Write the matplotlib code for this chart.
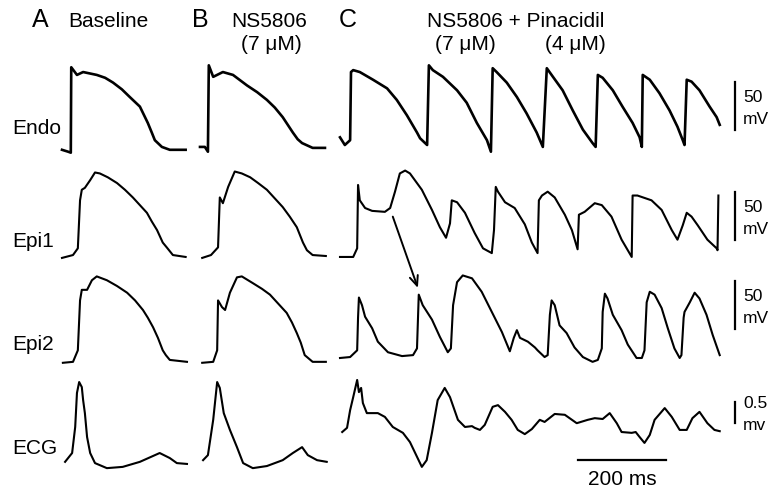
import matplotlib
matplotlib.use('Agg')
import matplotlib.pyplot as plt
from matplotlib.patches import ConnectionPatch
from matplotlib.transforms import offset_copy

plt.rcParams['font.family'] = ['Liberation Sans', 'DejaVu Sans']

# traces: time in ms, potential in mV (ECG in mV too)
endo_a_t = [0, 14, 20, 21, 34, 48, 79, 98, 116, 136, 154, 177, 195, 204, 211, 227, 245, 281]
endo_a_v = [-90, -92, -93, -4, -12, -9, -12, -15, -20, -27, -35, -45, -62, -72, -80, -87, -90, -90]
endo_b_t = [0, 11, 18, 20, 30, 52, 75, 107, 130, 152, 170, 188, 211, 222, 232, 256, 284]
endo_b_v = [-87, -87, -92, -2, -14, -9, -12, -23, -30, -38, -46, -56, -72, -79, -83, -88, -88]
endo_c_t = [0, 11, 23, 25, 30, 45, 75, 107, 129, 152, 175, 182, 198, 202, 211, 234, 266, 288, 311, 334,
            343, 347, 356, 379, 402, 424, 447, 461, 470, 484, 506, 529, 552, 574, 581, 586, 597, 620, 642, 665,
            681, 686, 688, 704, 726, 749, 767, 779, 783, 788, 799, 817, 840, 856, 863]
endo_c_v = [-77, -85, -80, -9, -7, -9, -17, -26, -38, -54, -72, -78, -85, -2, -7, -14, -28, -41, -62, -80,
            -92, -5, -9, -20, -35, -52, -72, -87, -5, -14, -28, -49, -69, -83, -87, -12, -15, -28, -45, -62,
            -77, -87, -12, -17, -31, -49, -66, -80, -85, -17, -19, -28, -45, -56, -64]

epi1_a_t = [0, 25, 36, 41, 45, 52, 64, 75, 86, 104, 125, 143, 161, 177, 193, 204, 216, 229, 238, 252, 281]
epi1_a_v = [-87, -84, -77, -27, -16, -14, -6, 2, 1, -3, -9, -16, -24, -32, -40, -49, -58, -71, -76, -84, -86]
epi1_b_t = [5, 25, 41, 45, 52, 64, 79, 95, 114, 132, 152, 170, 188, 204, 220, 227, 234, 243, 256, 286]
epi1_b_v = [-87, -84, -76, -24, -30, -13, 3, 1, -3, -9, -16, -25, -34, -44, -55, -63, -71, -79, -84, -85]
epi1_c_t = [0, 30, 39, 41, 45, 57, 73, 102, 114, 125, 136, 148, 159, 186, 209, 227, 241, 250, 254, 266,
            284, 306, 325, 345, 350, 354, 359, 375, 397, 420, 436, 449, 452, 459, 472, 488, 511, 527, 540, 543,
            556, 579, 595, 617, 640, 663, 665, 676, 708, 731, 754, 767, 779, 788, 799, 813, 835, 856, 858, 860]
epi1_c_v = [-86, -86, -77, -11, -27, -35, -38, -39, -35, -18, 1, 4, 1, -16, -37, -55, -66, -51, -27, -29,
            -40, -61, -77, -82, -58, -13, -18, -29, -35, -52, -71, -82, -27, -22, -18, -24, -42, -58, -78, -42,
            -39, -30, -32, -44, -68, -86, -22, -22, -27, -37, -58, -68, -53, -40, -44, -53, -68, -77, -79, -22]

epi2_a_t = [2, 25, 36, 41, 45, 57, 68, 79, 102, 125, 148, 166, 184, 195, 207, 218, 229, 236, 245, 284]
epi2_a_v = [-90, -89, -77, -25, -14, -14, -4, 0, -4, -10, -17, -25, -35, -43, -53, -64, -77, -82, -87, -89]
epi2_b_t = [5, 30, 39, 41, 50, 57, 68, 84, 95, 120, 141, 159, 177, 197, 209, 220, 229, 238, 256, 286]
epi2_b_v = [-90, -89, -77, -25, -32, -35, -17, -1, 0, -7, -13, -19, -28, -38, -48, -59, -69, -82, -89, -89]
epi2_c_t = [0, 23, 39, 41, 43, 50, 57, 73, 86, 109, 141, 166, 175, 179, 188, 209, 227, 245, 252, 257,
            266, 279, 300, 322, 345, 368, 386, 395, 402, 409, 427, 443, 449, 465, 472, 477, 481, 488, 499, 515,
            533, 552, 574, 586, 595, 597, 602, 608, 620, 640, 654, 674, 686, 692, 697, 704, 715, 731, 745, 760,
            772, 776, 781, 783, 795, 806, 817, 833, 847, 863]
epi2_c_v = [-85, -84, -77, -43, -22, -30, -42, -54, -68, -79, -83, -82, -75, -19, -30, -45, -63, -79, -75, -30,
            -6, 1, -2, -16, -37, -58, -78, -64, -56, -64, -68, -74, -77, -84, -82, -40, -25, -30, -51, -59,
            -74, -84, -89, -87, -75, -37, -18, -23, -40, -56, -71, -85, -85, -77, -27, -16, -19, -33, -54, -75,
            -85, -82, -43, -37, -27, -17, -23, -40, -61, -82]

ecg_a_t = [7, 23, 30, 34, 39, 45, 48, 52, 57, 64, 75, 102, 138, 177, 207, 222, 245, 261, 284]
ecg_a_v = [-0.52, -0.31, 0.31, 1.12, 1.38, 1.26, 0.95, 0.64, 0.07, -0.31, -0.55, -0.67, -0.64, -0.52, -0.38,
           -0.31, -0.43, -0.55, -0.57]
ecg_b_t = [7, 18, 30, 39, 45, 54, 68, 84, 98, 120, 152, 188, 211, 232, 245, 266, 288]
ecg_b_v = [-0.48, -0.36, 0.48, 1.38, 1.24, 0.64, 0.24, -0.17, -0.55, -0.67, -0.62, -0.48, -0.31, -0.17, -0.36, -0.48, -0.52]
ecg_c_t = [5, 16, 23, 30, 39, 43, 48, 52, 61, 86, 102, 120, 143, 159, 175, 186, 197, 209, 222, 238,
           250, 268, 284, 300, 306, 318, 329, 347, 359, 375, 390, 404, 420, 436, 454, 465, 488, 511, 538, 563,
           579, 597, 613, 629, 640, 663, 672, 681, 692, 704, 715, 738, 754, 772, 788, 801, 817, 835, 851, 863]
ecg_c_v = [0.19, 0.29, 0.71, 1.02, 1.43, 1.14, 1.24, 0.88, 0.64, 0.64, 0.55, 0.31, 0.17, -0.05, -0.40, -0.64, -0.48, 0.17, 0.95, 1.24,
           1.02, 0.48, 0.31, 0.33, 0.29, 0.24, 0.36, 0.79, 0.83, 0.67, 0.48, 0.24, 0.14, 0.26, 0.48, 0.43, 0.62, 0.60, 0.40, 0.48,
           0.52, 0.50, 0.64, 0.40, 0.19, 0.17, 0.19, 0.07, -0.07, 0.12, 0.48, 0.76, 0.55, 0.24, 0.24, 0.52, 0.67, 0.40, 0.24, 0.21]

row_names = ['Endo', 'Epi1', 'Epi2', 'ECG']
col_names = ['A', 'B', 'C']
traces = {
    ('Endo', 'A'): (endo_a_t, endo_a_v), ('Endo', 'B'): (endo_b_t, endo_b_v), ('Endo', 'C'): (endo_c_t, endo_c_v),
    ('Epi1', 'A'): (epi1_a_t, epi1_a_v), ('Epi1', 'B'): (epi1_b_t, epi1_b_v), ('Epi1', 'C'): (epi1_c_t, epi1_c_v),
    ('Epi2', 'A'): (epi2_a_t, epi2_a_v), ('Epi2', 'B'): (epi2_b_t, epi2_b_v), ('Epi2', 'C'): (epi2_c_t, epi2_c_v),
    ('ECG', 'A'): (ecg_a_t, ecg_a_v), ('ECG', 'B'): (ecg_b_t, ecg_b_v), ('ECG', 'C'): (ecg_c_t, ecg_c_v),
}
scale_labels = {'Endo': ('50', 'mV', 50), 'Epi1': ('50', 'mV', 50), 'Epi2': ('50', 'mV', 50), 'ECG': ('0.5', 'mv', 0.5)}
time_bar_ms = 200

# layout (figure pixels)
W, H = 773, 491
px_per_ms = 88 / 200
# ref pixel row, value at that row, pixels per unit, top, bottom, bar centre value
rows = {
    'Endo': (145, -85, 48 / 50, 55, 165, -44.4),
    'Epi1': (256, -85, 48 / 50, 160, 265, -43.4),
    'Epi2': (358, -85, 48 / 50, 262, 372, -29.9),
    'ECG': (440, 0.0, 42, 372, 491, 0.655),
}
cols = {'A': (62, 130), 'B': (200, 130), 'C': (340, 433)}
bar_ms = 898

fig = plt.figure(figsize=(W / 100, H / 100), dpi=100)
axes = {}
for row in row_names:
    ref_py, ref_v, ppu, top, bottom, bar_c = rows[row]
    for col in col_names:
        left, width = cols[col]
        ax = fig.add_axes([left / W, 1 - bottom / H, width / W, (bottom - top) / H])
        ax.set_xlim(0, width / px_per_ms)
        ax.set_ylim(ref_v - (bottom - ref_py) / ppu, ref_v + (ref_py - top) / ppu)
        ax.axis('off')
        t, v = traces[(row, col)]
        lw = 1.9 if row == 'Endo' else 1.5
        ax.plot(t, v, color='black', lw=lw, clip_on=False, solid_joinstyle='round')
        axes[(row, col)] = ax

    # vertical scale bar at right of panel C
    ax = axes[(row, 'C')]
    top_txt, unit_txt, size = scale_labels[row]
    ax.plot([bar_ms, bar_ms], [bar_c - size / 2, bar_c + size / 2], color='black', lw=1.6, clip_on=False)
    ax.text(bar_ms, bar_c, top_txt, fontsize=12.5, ha='left', va='baseline',
            transform=offset_copy(ax.transData, fig=fig, x=8, y=4, units='dots'))
    ax.text(bar_ms, bar_c, unit_txt, fontsize=12.5, ha='left', va='baseline',
            transform=offset_copy(ax.transData, fig=fig, x=8, y=-18, units='dots'))

# time scale bar
ax = axes[('ECG', 'C')]
ax.plot([541, 541 + time_bar_ms], [-0.476, -0.476], color='black', lw=1.6, clip_on=False)
ax.text(541 + time_bar_ms / 2, -1.07, '%d ms' % time_bar_ms, fontsize=15, ha='center', va='baseline')

# arrow from Epi1 to the early beat in Epi2
arrow = ConnectionPatch(xyA=(120, -44), coordsA=axes[('Epi1', 'C')].transData,
                        xyB=(177, -12), coordsB=axes[('Epi2', 'C')].transData,
                        arrowstyle='->,head_length=0.7,head_width=0.3', lw=1.4, color='black')
fig.add_artist(arrow)


def ftext(x, y, s, size=15, ha='left'):
    fig.text(x / W, 1 - y / H, s, fontsize=size, ha=ha, va='baseline')


# panel headers
ftext(32, 27, 'A', 18)
ftext(68, 27, 'Baseline')
ftext(192, 27, 'B', 18)
ftext(269, 27, 'NS5806', ha='center')
ftext(271, 50, '(7 μM)', ha='center')
ftext(339, 27, 'C', 18)
ftext(516, 27, 'NS5806 + Pinacidil', ha='center')
ftext(465, 50, '(7 μM)', ha='center')
ftext(575, 50, '(4 μM)', ha='center')

# row labels
for name, y in zip(row_names, [134, 247, 350, 454]):
    ftext(12, y, name)

fig.savefig('out.png', dpi=100, facecolor='white')
